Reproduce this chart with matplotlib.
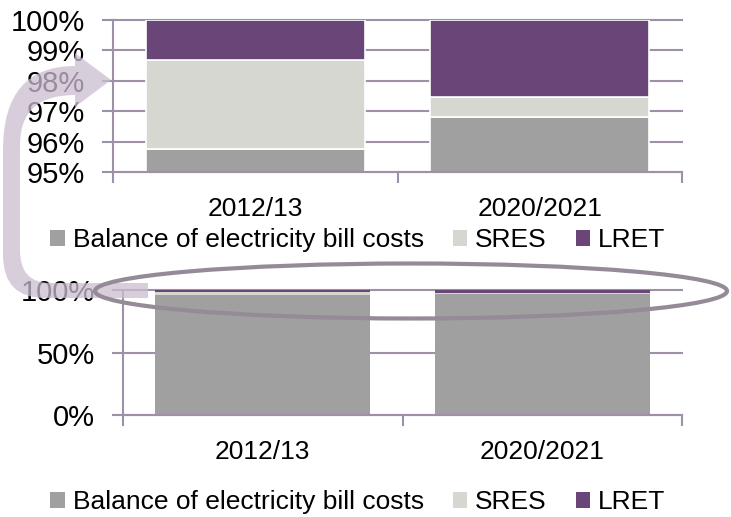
import matplotlib
matplotlib.use("Agg")
import matplotlib.pyplot as plt
from matplotlib.patches import Patch, Ellipse, PathPatch
from matplotlib.path import Path
from matplotlib.ticker import PercentFormatter, FixedLocator

plt.rcParams['font.family'] = ['Liberation Sans', 'DejaVu Sans']

years = ['2012/13', '2020/2021']
balance = [95.75, 96.82]
sres = [2.95, 0.66]
lret = [1.30, 2.52]
series_names = ['Balance of electricity bill costs', 'SRES', 'LRET']

top_ticks = [95, 96, 97, 98, 99, 100]
bottom_ticks = [0, 50, 100]

c_balance = '#a0a0a0'
c_sres = '#d7d7d1'
c_lret = '#6a4577'
axis_c = '#9d90a8'

W, H = 731, 517
fig = plt.figure(figsize=(W / 100, H / 100), dpi=100)


def px_axes(left, top, right, bottom):
    return fig.add_axes([left / W, 1 - bottom / H, (right - left) / W, (bottom - top) / H])


def draw_stack(ax, ticks, edge_lw):
    x = range(len(years))
    b2 = [b + s for b, s in zip(balance, sres)]
    ax.bar(x, balance, width=0.77, color=c_balance, edgecolor='white', linewidth=edge_lw)
    ax.bar(x, sres, bottom=balance, width=0.77, color=c_sres, edgecolor='white', linewidth=edge_lw)
    ax.bar(x, lret, bottom=b2, width=0.77, color=c_lret, edgecolor='white', linewidth=edge_lw)
    ax.set_xlim(-0.5, 1.5)
    ax.set_ylim(ticks[0], ticks[-1])
    ax.set_yticks(ticks)
    ax.yaxis.set_major_formatter(PercentFormatter(decimals=0))
    ax.set_xticks(list(x))
    ax.set_xticklabels(years, fontsize=19)
    ax.xaxis.set_minor_locator(FixedLocator([-0.5, 0.5, 1.5]))
    ax.tick_params(axis='x', which='major', length=0, pad=18)
    ax.tick_params(axis='x', which='minor', direction='out', length=8, width=1.5, color=axis_c)
    ax.tick_params(axis='y', direction='out', length=8, width=1.5, color=axis_c,
                   labelsize=21, pad=12)
    for s in ['top', 'right']:
        ax.spines[s].set_visible(False)
    for s in ['left', 'bottom']:
        ax.spines[s].set_color(axis_c)
        ax.spines[s].set_linewidth(1.5)
    ax.set_axisbelow(True)
    ax.yaxis.grid(True, color=axis_c, linewidth=1.5)
    for gl in ax.get_ygridlines():
        gl.set_clip_on(False)


ax_top = px_axes(113, 20, 682, 172)
draw_stack(ax_top, top_ticks, 1.2)

ax_bot = px_axes(123, 290, 682, 415)
draw_stack(ax_bot, bottom_ticks, 0)

handles = [Patch(facecolor=c, edgecolor='none') for c in (c_balance, c_sres, c_lret)]
for cy in (240, 502):
    fig.legend(handles, series_names, loc='center', bbox_to_anchor=(358 / W, 1 - cy / H),
               ncol=3, frameon=False, fontsize=19, handlelength=0.55, handleheight=0.55,
               handletextpad=0.3, columnspacing=1.1, borderaxespad=0)

# overlay in pixel coordinates for the callout arrow and ellipse
ov = fig.add_axes([0, 0, 1, 1], zorder=10)
ov.set_xlim(0, W)
ov.set_ylim(H, 0)
ov.axis('off')

verts = [
    (148, 298), (45, 298),
    (3, 298), (3, 255),
    (3, 150),
    (3, 66), (75, 66),
    (75, 53), (111, 80), (75, 107), (75, 95),
    (20, 95), (20, 145),
    (20, 250),
    (20, 283), (50, 283),
    (148, 283), (148, 298),
]
codes = [
    Path.MOVETO, Path.LINETO,
    Path.CURVE3, Path.CURVE3,
    Path.LINETO,
    Path.CURVE3, Path.CURVE3,
    Path.LINETO, Path.LINETO, Path.LINETO, Path.LINETO,
    Path.CURVE3, Path.CURVE3,
    Path.LINETO,
    Path.CURVE3, Path.CURVE3,
    Path.LINETO, Path.CLOSEPOLY,
]
ov.add_patch(PathPatch(Path(verts, codes), facecolor='#cbbdd0', edgecolor='none', alpha=0.75))

ov.add_patch(Ellipse((411, 291), 632, 55, facecolor='none', edgecolor='#948a98', linewidth=3))

fig.savefig('out.png', dpi=100)
